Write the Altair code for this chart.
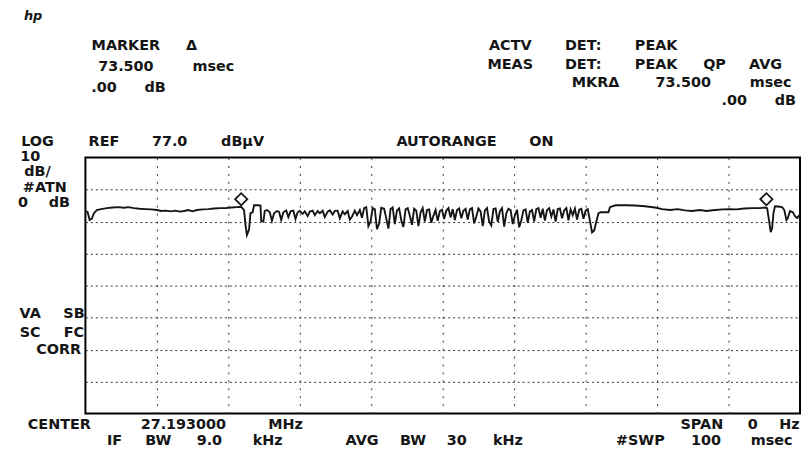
import re
import altair as alt
import pandas as pd

# ---------------- instrument settings ----------------
SWEEP_MS = 100.0          # span 0 Hz, sweep 100 msec
REF_LEVEL_DBUV = 77.0     # REF 77.0 dBuV
DB_PER_DIV = 10
N_YDIV = 8
BOTTOM_DBUV = REF_LEVEL_DBUV - DB_PER_DIV * N_YDIV

grid_ms = [10, 20, 30, 40, 50, 60, 70, 80, 90]
grid_dbuv = [67, 57, 47, 37, 27, 17, 7]

# delta markers (73.500 msec apart, .00 dB)
marker_ms = [21.8, 95.3]
marker_dbuv = [61.5, 61.5]

# ---------------- trace (ms, dBuV) ----------------
trace_left = [
    (0.0, 60.3), (0.3, 60.0), (0.6, 57.5), (0.9, 57.9), (1.2, 59.6), (1.6, 60.6),
    (2.2, 60.9), (3.0, 61.2), (3.8, 61.4), (4.6, 61.5), (5.4, 61.3), (6.0, 61.5),
    (6.8, 61.2), (7.6, 61.0), (8.4, 60.9), (9.2, 60.8), (10.0, 60.6), (10.6, 60.3),
    (11.2, 60.4), (12.0, 60.2), (12.6, 60.4), (13.2, 60.1), (13.8, 60.3), (14.4, 60.6),
    (15.0, 60.2), (15.6, 60.6), (16.4, 60.8), (17.2, 60.9), (18.0, 61.1), (18.8, 61.2),
    (19.6, 61.2), (20.4, 61.4), (21.2, 61.5), (21.8, 61.6),
]
trace_marker1 = [
    (22.2, 60.6), (22.4, 56.0), (22.6, 52.8), (22.9, 54.5), (23.1, 59.6), (23.4, 59.9),
    (23.6, 62.1), (24.2, 62.1), (24.5, 62.0), (24.6, 57.2), (24.9, 57.0), (25.1, 60.3),
]
trace_noisy = [
    (25.4, 60.6), (25.8, 59.9), (26.1, 57.2), (26.4, 59.6), (26.8, 60.3), (27.1, 60.0),
    (27.4, 57.5), (27.7, 59.9), (28.1, 60.5), (28.4, 58.4), (28.7, 60.2), (29.1, 60.4),
    (29.4, 57.8), (29.7, 59.9), (30.0, 60.3), (30.4, 59.4), (30.7, 60.2), (31.1, 58.7),
    (31.4, 60.1), (31.8, 60.4), (32.1, 59.0), (32.5, 60.3), (32.8, 59.6), (33.2, 60.4),
    (33.5, 58.4), (33.9, 60.1), (34.2, 60.5), (34.6, 59.2), (34.9, 60.3), (35.3, 60.4),
    (35.6, 58.0), (36.0, 60.2), (36.3, 59.3), (36.7, 60.3), (37.0, 57.6), (37.3, 58.5),
    (37.7, 60.4), (38.0, 59.0), (38.4, 60.6), (38.7, 58.2), (39.0, 61.2), (39.3, 61.5),
    (39.6, 55.6), (39.9, 57.0), (40.2, 61.2), (40.5, 60.8), (40.8, 54.6), (41.1, 56.4),
    (41.4, 61.3), (41.8, 61.0), (42.1, 58.0), (42.4, 54.8), (42.7, 60.9), (43.0, 61.4),
    (43.3, 56.2), (43.6, 60.5), (43.9, 61.1), (44.2, 57.4), (44.5, 55.3), (44.8, 60.8),
    (45.1, 61.2), (45.4, 58.8), (45.7, 56.0), (46.0, 61.0), (46.3, 60.4), (46.6, 55.6),
    (46.9, 59.8), (47.2, 61.2), (47.5, 57.0), (47.8, 60.6), (48.1, 60.8), (48.4, 56.6),
    (48.7, 58.8), (49.0, 60.6), (49.3, 57.2), (49.6, 60.3), (49.9, 60.7), (50.2, 57.8),
    (50.5, 60.4), (50.8, 61.2), (51.1, 58.3), (51.4, 60.9), (51.7, 57.5), (52.0, 60.6),
    (52.3, 61.1), (52.6, 58.0), (52.9, 60.4), (53.2, 61.0), (53.5, 57.6), (53.8, 60.8),
    (54.1, 61.2), (54.4, 56.4), (54.7, 58.6), (55.0, 61.1), (55.3, 60.2), (55.6, 55.6),
    (55.9, 60.5), (56.2, 61.2), (56.5, 57.0), (56.8, 55.8), (57.1, 60.9), (57.4, 61.1),
    (57.7, 56.9), (58.0, 60.2), (58.3, 61.2), (58.6, 55.4), (58.9, 59.6), (59.2, 61.0),
    (59.5, 60.6), (59.8, 56.2), (60.1, 58.9), (60.4, 60.7), (60.7, 55.2), (61.0, 57.4),
    (61.3, 60.5), (61.6, 60.8), (61.9, 56.6), (62.2, 60.2), (62.5, 60.6), (62.8, 57.0),
    (63.1, 60.9), (63.4, 61.2), (63.7, 58.2), (64.0, 61.0), (64.3, 57.3), (64.6, 60.6),
    (64.9, 61.2), (65.2, 58.6), (65.5, 60.8), (65.8, 57.0), (66.1, 60.9), (66.4, 61.1),
    (66.7, 58.0), (67.0, 60.5), (67.3, 61.2), (67.6, 57.4), (67.9, 60.8), (68.2, 59.0),
    (68.5, 61.0), (68.8, 57.6), (69.1, 60.7), (69.4, 61.0), (69.7, 57.9), (70.0, 60.4),
    (70.3, 60.9), (70.6, 57.2), (70.9, 53.6), (71.2, 54.2), (71.5, 57.0), (71.8, 59.6),
    (72.1, 59.9), (72.4, 59.9),
]
trace_right = [
    (72.8, 59.9), (73.2, 59.9), (73.4, 61.5), (74.2, 62.1), (75.6, 62.1), (76.9, 62.0),
    (78.3, 61.8), (79.7, 61.4), (80.7, 60.9), (81.8, 60.6), (82.9, 60.9), (83.9, 60.5),
    (84.9, 60.3), (86.0, 60.6), (86.9, 60.3), (88.1, 60.6), (89.2, 60.8), (90.1, 60.9),
    (91.1, 60.8), (92.2, 61.1), (93.3, 61.2), (94.4, 61.2), (95.1, 61.4), (95.4, 61.2),
    (95.7, 56.8), (95.9, 53.7), (96.1, 55.0), (96.3, 59.9), (96.5, 61.8), (96.9, 61.7),
    (97.5, 61.5), (97.8, 60.6), (98.1, 57.5), (98.3, 58.1), (98.6, 60.3), (99.0, 59.9),
    (99.3, 58.7), (99.6, 58.1), (100.0, 59.3),
]

# ---------------- screen annotations ----------------
readout_text = [
    "MARKER Δ", "73.500 msec", ".00 dB",
    "ACTV DET: PEAK", "MEAS DET: PEAK QP AVG", "MKRΔ 73.500 msec", ".00 dB",
    "LOG", "REF 77.0 dBμV", "AUTORANGE ON",
    "10", "dB/", "#ATN", "0 dB",
    "VA SB", "SC FC", "CORR",
    "CENTER 27.193000 MHz", "SPAN 0 Hz",
    "IF BW 9.0 kHz", "AVG BW 30 kHz", "#SWP 100 msec",
]
# layout: page pixel position (left edge, text centre line) of each readout line
readout_pos = [
    (85, 45), (85, 66), (85, 87),
    (487, 45), (487, 64), (573, 82), (720, 100),
    (18, 141), (85, 141), (386, 141),
    (18, 156.5), (18, 172), (18, 187.5), (18, 203),
    (18, 315), (18, 334), (32, 351),
    (18, 427), (680, 427),
    (103, 443), (345, 443), (618, 443),
]

# ---------------- layout ----------------
PAGE_MARGIN = 8
PLOT_LEFT_PX = 86
PLOT_TOP_PX = 157
W, H = 720, 258
CHAR_PITCH = 14.7      # character cell pitch of the analyser's screen font
GLYPH_W = 10           # ink width of one character cell
INK = "#151515"


def px_to_ms(px):
    return (px - PLOT_LEFT_PX) / W * SWEEP_MS


def py_to_db(py):
    return REF_LEVEL_DBUV - (py - PLOT_TOP_PX) / H * (REF_LEVEL_DBUV - BOTTOM_DBUV)


trace_df = pd.DataFrame(trace_left + trace_marker1 + trace_noisy + trace_right,
                        columns=["ms", "dbuv"])
marker_df = pd.DataFrame({"ms": marker_ms, "dbuv": marker_dbuv})

words = []
for line, (x0, yc) in zip(readout_text, readout_pos):
    for m in re.finditer(r"\S+", line):
        n = len(m.group(0))
        cx = x0 + (m.start() + (n - 1) / 2) * CHAR_PITCH + GLYPH_W / 2
        words.append({"label": m.group(0), "ms": px_to_ms(cx), "dbuv": py_to_db(yc)})
text_df = pd.DataFrame(words)
logo_df = pd.DataFrame([{"label": "hp", "ms": px_to_ms(24), "dbuv": py_to_db(14)}])

x_scale = alt.Scale(domain=[0, SWEEP_MS], nice=False, zero=False)
y_scale = alt.Scale(domain=[BOTTOM_DBUV, REF_LEVEL_DBUV], nice=False, zero=False)

X = alt.X("ms:Q", scale=x_scale,
          axis=alt.Axis(values=grid_ms, grid=True, gridDash=[2, 6], gridColor="#333333",
                        gridWidth=1, labels=False, ticks=False, domain=False, title=None))
Y = alt.Y("dbuv:Q", scale=y_scale,
          axis=alt.Axis(values=grid_dbuv, grid=True, gridDash=[2, 3], gridColor="#333333",
                        gridWidth=1, labels=False, ticks=False, domain=False, title=None))

trace = alt.Chart(trace_df).mark_line(color=INK, strokeWidth=1.9).encode(x=X, y=Y)

markers = alt.Chart(marker_df).mark_point(
    shape="diamond", size=150, filled=True, fill="white", stroke=INK,
    strokeWidth=1.8, opacity=1, yOffset=-8
).encode(x=X, y=Y)

texts = alt.Chart(text_df).mark_text(
    align="center", baseline="middle", font="DejaVu Sans", fontWeight="bold",
    fontSize=14.5, color=INK
).encode(x=X, y=Y, text="label:N")

logo = alt.Chart(logo_df).mark_text(
    align="left", baseline="middle", font="DejaVu Sans", fontWeight="bold",
    fontStyle="italic", fontSize=13, color=INK
).encode(x=X, y=Y, text="label:N")

chart = alt.layer(trace, markers, texts, logo).properties(
    width=W, height=H,
    autosize=alt.AutoSizeParams(type="none"),
    padding={"left": PLOT_LEFT_PX - PAGE_MARGIN, "top": PLOT_TOP_PX - PAGE_MARGIN,
             "right": 2, "bottom": 37},
    background="white",
).configure_view(stroke="black", strokeWidth=2)

chart.save("out.html", embed_options={"renderer": "svg", "actions": False})
